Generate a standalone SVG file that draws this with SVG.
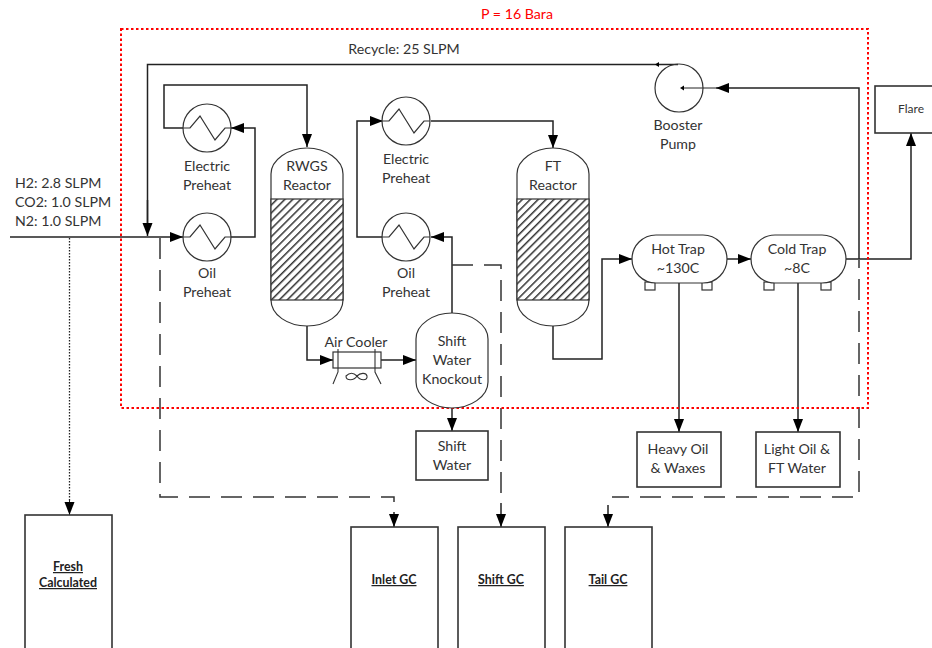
<svg xmlns="http://www.w3.org/2000/svg" width="932" height="648" viewBox="0 0 932 648">
<style>
text{font-family:Lato,"Open Sans","Liberation Sans",sans-serif;font-size:14.2px;fill:#333;text-anchor:middle}
.s{fill:#fff;stroke:#333;stroke-width:1.2}
.r{fill:#fff;stroke:#333;stroke-width:1.6}
.l{fill:none;stroke:#222;stroke-width:1.5}
.a{marker-end:url(#ah)}
.d{fill:none;stroke:#333;stroke-width:1.5;stroke-dasharray:21 11}
.b{font-size:12.4px;font-weight:bold;text-decoration:underline;fill:#222}
</style>
<defs>
<marker id="ah" markerUnits="userSpaceOnUse" markerWidth="14" markerHeight="12" refX="13" refY="6" orient="auto"><path d="M0 1L13 6L0 11Z" fill="#000"/></marker>
<pattern id="h" width="5.6" height="5.6" patternUnits="userSpaceOnUse" patternTransform="rotate(45)"><rect width="5.6" height="5.6" fill="#fff"/><rect width="1.5" height="5.6" fill="#333"/></pattern>
<g id="hx"><circle r="24" class="s"/><path d="M-24 0H-17L-7-12L8 12L18 0H24" fill="none" stroke="#333" stroke-width="1.2"/></g>
</defs>
<g id="connectors">
<path class="l a" d="M10 237H183"/>
<path class="l" d="M678 64.500H147.500V224"/>
<path class="l a" d="M147.500 200V236"/>
<path class="l a" d="M231 237H255V128H231"/>
<path class="l a" d="M183 128H164V85H307V147"/>
<path class="l a" d="M452 313V237H431"/>
<path class="l a" d="M383 237H357V121H383"/>
<path class="l a" d="M431 121H553V148"/>
<path class="l a" d="M307 325V360H333"/>
<path class="l a" d="M381 360H416"/>
<path class="l a" d="M452 408V431"/>
<path class="l a" d="M553 326V359H602V259H632"/>
<path class="l a" d="M727 259H751"/>
<path class="l a" d="M846 259H911V133"/>
<path class="l a" d="M859 259V88H716"/>
<path class="l" d="M716 88H682" style="stroke-width:1"/>
<path d="M680 88L684 85.500V90.500Z" fill="#000"/>
<path d="M655 64.500L659 62V67Z" fill="#000"/>
<path class="l a" d="M679 283V432"/>
<path class="l a" d="M798 283V432"/>
<path d="M69.500 238V502" fill="none" stroke="#222" stroke-width="1.3" stroke-dasharray="1.500 1.500"/>
<path class="l a" d="M69.500 500V515" style="stroke-width:1"/>
<path class="d" d="M160 238V497H394V502"/>
<path class="l a" d="M394 512V527"/>
<path class="d" d="M452 265H501V495"/>
<path class="l a" d="M501 503V527"/>
<path class="d" d="M859 260V497H612" style="stroke-dashoffset:13"/>
<path class="l a" d="M608 505V527"/>
</g>
<g id="boundary"><rect x="121" y="29" width="747" height="379" fill="none" stroke="#f00" stroke-width="2" stroke-dasharray="2.500 2.500"/></g>
<g id="electric-preheat-1"><use href="#hx" x="207" y="128"/><text x="207" y="171">Electric</text><text x="207" y="190">Preheat</text></g>
<g id="oil-preheat-1"><use href="#hx" x="207" y="237"/><text x="207" y="278">Oil</text><text x="207" y="297">Preheat</text></g>
<g id="electric-preheat-2"><use href="#hx" x="406" y="121"/><text x="406" y="164">Electric</text><text x="406" y="183">Preheat</text></g>
<g id="oil-preheat-2"><use href="#hx" x="406" y="237"/><text x="406" y="278">Oil</text><text x="406" y="297">Preheat</text></g>
<g id="rwgs"><path class="s" d="M271 174C271 160 288 148 307 148C326 148 343 160 343 174V300C343 315 326 326 307 326C288 326 271 315 271 300Z"/><rect x="271" y="199" width="72" height="101" fill="url(#h)" stroke="#333" stroke-width="1.2"/><text x="307" y="171">RWGS</text><text x="307" y="190">Reactor</text></g>
<g id="ft"><path class="s" d="M517 174C517 160 534 148 553 148C572 148 589 160 589 174V300C589 315 572 326 553 326C534 326 517 315 517 300Z"/><rect x="517" y="199" width="72" height="101" fill="url(#h)" stroke="#333" stroke-width="1.2"/><text x="553" y="171">FT</text><text x="553" y="190">Reactor</text></g>
<g id="air-cooler"><rect x="333" y="352" width="48" height="16" class="s"/><path d="M338 349V372L333 384M375 349V372L381 384M346 376C350 372 354 373 357 376C360 373 366 372 367 376C368 381 360 381 357 376C354 381 346 381 346 376Z" fill="none" stroke="#333" stroke-width="1.1"/><text x="356" y="347">Air Cooler</text></g>
<g id="knockout"><path class="s" d="M416 339C416 324 434 313 452 313C470 313 488 324 488 339V382C488 397 470 408 452 408C434 408 416 397 416 382Z"/><text x="452" y="346">Shift</text><text x="452" y="365">Water</text><text x="452" y="384">Knockout</text></g>
<g id="shift-water"><rect x="416" y="431" width="72" height="49" class="r"/><text x="452" y="451">Shift</text><text x="452" y="470">Water</text></g>
<g id="hot-trap"><rect x="645" y="282" width="10" height="8" class="s"/><rect x="702" y="282" width="10" height="8" class="s"/><rect x="632" y="235" width="95" height="48" rx="24" class="s"/><text x="678" y="254">Hot Trap</text><text x="678" y="273">~130C</text></g>
<g id="cold-trap"><rect x="764" y="282" width="10" height="8" class="s"/><rect x="821" y="282" width="10" height="8" class="s"/><rect x="751" y="235" width="95" height="48" rx="24" class="s"/><text x="797" y="254">Cold Trap</text><text x="797" y="273">~8C</text></g>
<g id="pump"><circle cx="679" cy="88" r="24" fill="none" stroke="#333" stroke-width="1.2"/><text x="678" y="130">Booster</text><text x="678" y="149">Pump</text></g>
<g id="flare"><rect x="875" y="86" width="60" height="47" class="r"/><text x="911" y="113" style="font-size:12px">Flare</text></g>
<g id="heavy"><rect x="637" y="432" width="84" height="55" class="r"/><text x="678" y="454">Heavy Oil</text><text x="678" y="473">&amp; Waxes</text></g>
<g id="light"><rect x="756" y="432" width="84" height="55" class="r"/><text x="797" y="454">Light Oil &amp;</text><text x="797" y="473">FT Water</text></g>
<g id="fresh"><rect x="25" y="515" width="87" height="140" class="r"/><text class="b" x="68" y="571">Fresh</text><text class="b" x="68" y="587">Calculated</text></g>
<g id="inlet-gc"><rect x="351" y="527" width="87" height="128" class="r"/><text class="b" x="394" y="584">Inlet GC</text></g>
<g id="shift-gc"><rect x="458" y="527" width="87" height="128" class="r"/><text class="b" x="501" y="584">Shift GC</text></g>
<g id="tail-gc"><rect x="565" y="527" width="87" height="128" class="r"/><text class="b" x="608" y="584">Tail GC</text></g>
<g id="labels">
<text x="517" y="19" style="fill:#f00">P = 16 Bara</text>
<text x="404" y="54">Recycle: 25 SLPM</text>
<text x="15" y="188" style="text-anchor:start">H2: 2.8 SLPM</text>
<text x="15" y="207" style="text-anchor:start">CO2: 1.0 SLPM</text>
<text x="15" y="226" style="text-anchor:start">N2: 1.0 SLPM</text>
</g>
</svg>
